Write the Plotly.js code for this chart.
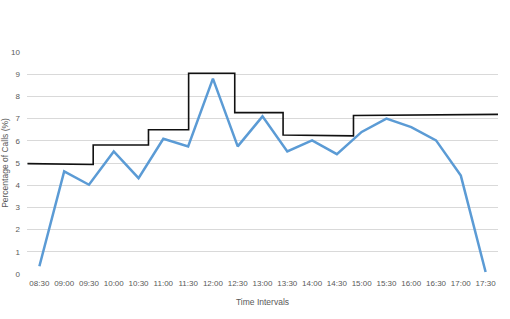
<!DOCTYPE html>
<html>
<head>
<meta charset="utf-8">
<script src="https://cdn.plot.ly/plotly-3.0.1.min.js"></script>
<style>html,body{margin:0;padding:0;background:#fff;}#chart{width:510px;height:319px;}</style>
</head>
<body>
<div id="chart"></div>
<script>
var categories = ["08:30","09:00","09:30","10:00","10:30","11:00","11:30","12:00","12:30","13:00","13:30","14:00","14:30","15:00","15:30","16:00","16:30","17:00","17:30"];
var callPct = [0.35,4.62,4.02,5.52,4.32,6.09,5.75,8.8,5.75,7.1,5.52,6.02,5.4,6.4,7.0,6.62,6.02,4.43,0.09];
// step line (x in category-index units)
var stepX = [-0.48,2.17,2.17,4.40,4.40,6.02,6.02,7.88,7.88,9.83,9.83,12.67,12.67,18.5];
var stepY = [4.97,4.93,5.81,5.81,6.5,6.5,9.04,9.04,7.27,7.27,6.26,6.22,7.14,7.19];
var yTicks = [0,1,2,3,4,5,6,7,8,9,10];

var idx = categories.map(function(c,i){return i;});
var font = "Liberation Sans, Arial, sans-serif";
var traces = [
  {x: stepX, y: stepY, mode: 'lines', line: {color: '#111111', width: 1.6}, hoverinfo: 'skip', showlegend: false},
  {x: idx, y: callPct, mode: 'lines', line: {color: '#5B9BD5', width: 2.5}, showlegend: false}
];
var layout = {
  width: 510, height: 319,
  margin: {l: 27, r: 12, t: 52, b: 45},
  paper_bgcolor: '#fff', plot_bgcolor: '#fff',
  font: {family: font, color: '#595959', size: 8},
  showlegend: false,
  xaxis: {
    range: [-0.5, 18.5], tickmode: 'array', tickvals: idx, ticktext: categories,
    showgrid: false, zeroline: false, showline: false, ticks: '',
    tickfont: {size: 8, color: '#595959'}, tickangle: 0, ticklabelstandoff: 3,
    title: {text: 'Time Intervals', font: {size: 8.5, color: '#595959'}, standoff: 12}
  },
  yaxis: {
    range: [0, 10], tickmode: 'array', tickvals: yTicks,
    showgrid: true, gridcolor: '#D9D9D9', gridwidth: 1, zeroline: false, showline: false, ticks: '',
    tickfont: {size: 8, color: '#595959'}, ticklabelstandoff: 6,
    title: {text: 'Percentage of Calls (%)', font: {size: 8.5, color: '#595959'}, standoff: 3}
  }
};
Plotly.newPlot('chart', traces, layout, {displayModeBar: false, staticPlot: true});
</script>
</body>
</html>
